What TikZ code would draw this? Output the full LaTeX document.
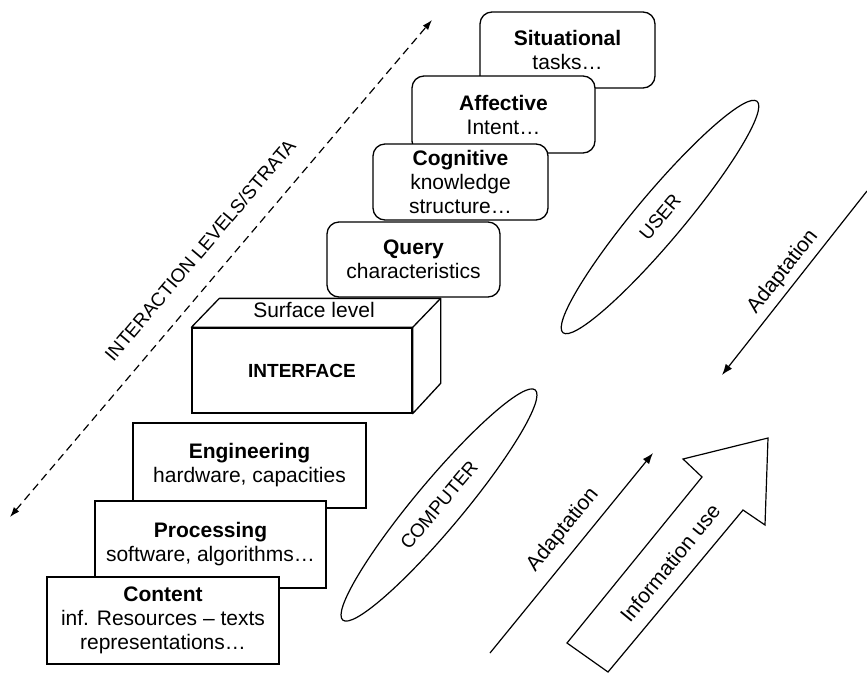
\documentclass[tikz,border=0pt]{standalone}
\usepackage{fontspec}
\setmainfont{Liberation Sans}
\usepackage{tikz}
\usetikzlibrary{arrows.meta,shapes.geometric,calc}

\begin{document}
\begin{tikzpicture}[x=1pt,y=-1pt,
        level/.style={draw, line width=1.3pt, fill=white, align=center, inner sep=0pt,
            font=\fontsize{21}{24}\selectfont},
        mind/.style={level, rounded corners=12pt},
        layer/.style={draw, line width=1.2pt, ellipse, inner sep=0pt,
            font=\fontsize{19}{22}\selectfont},
        lbl/.style={inner sep=0pt, font=\fontsize{21}{24}\selectfont},
        flow/.style={line width=1.2pt, -{Latex[length=11pt,width=8pt]}}]
        \useasboundingbox (0,0) rectangle (867,673);

        \node[mind, minimum width=175pt, minimum height=76pt] (sit) at (567.5,50) {\textbf{Situational}\\tasks\dots};
        \node[mind, minimum width=183pt, minimum height=77pt] (aff) at (503.5,114.5) {\textbf{Affective}\\Intent\dots};
        \node[mind, minimum width=175pt, minimum height=76pt] (cog) at (460.5,182) {\textbf{Cognitive}\\knowledge\\structure\dots};
        \node[mind, minimum width=173pt, minimum height=75pt] (query) at (413.5,259.5) {\textbf{Query}\\characteristics};

        \node[level, minimum width=220pt, minimum height=85pt, font=\fontsize{19}{22}\selectfont\bfseries] (iface) at (302,370.5) {INTERFACE};
        \draw[line width=1.3pt, fill=white, line join=round] (iface.north west) -- ++(28,-29)
            -- ($(iface.north east)+(28,-29)$) -- ++(0,85) -- (iface.south east)
            -- (iface.north east) -- cycle;
        \draw[line width=1.3pt] (iface.north east) -- ++(28,-29);
        \node[lbl] (surf) at ($(iface.north)+(12,-17)$) {Surface level};

        \node[level, minimum width=233pt, minimum height=85pt] (eng) at (249.5,465.5) {\textbf{Engineering}\\hardware, capacities};
        \node[level, minimum width=231pt, minimum height=87pt] (proc) at (210.5,544.5) {\textbf{Processing}\\software, algorithms\dots};
        \node[level, minimum width=232pt, minimum height=87pt] (cont) at (163,620.5) {\textbf{Content}\\inf. Resources -- texts\\representations\dots};

        \coordinate (lo) at (10,517);
        \coordinate (hi) at (432,20);
        \draw[line width=1.2pt, dashed, dash pattern=on 8pt off 5pt,
            {Latex[length=10pt,width=7pt]}-{Latex[length=10pt,width=7pt]}] (lo) -- (hi);
        \node[lbl, rotate=49.7, font=\fontsize{19}{22}\selectfont] (strata) at (200,250) {INTERACTION LEVELS/STRATA};

        \node[layer, minimum width=302pt, minimum height=48pt, rotate=50] (user) at (660,217) {USER};
        \node[layer, minimum width=300pt, minimum height=48pt, rotate=50.1] (comp) at (439,505) {COMPUTER};

        \coordinate (down0) at (867,191);
        \coordinate (down1) at (722,375);
        \draw[flow] (down0) -- (down1);
        \node[lbl, rotate=51.8] (adaptdown) at (783,272) {Adaptation};

        \coordinate (up0) at (490,653);
        \coordinate (up1) at (653,453);
        \draw[flow] (up0) -- (up1);
        \node[lbl, rotate=50.8] (adaptup) at (563,530) {Adaptation};

        \draw[line width=1.2pt, line join=miter] (567,643) -- (702,477) -- (683,459) -- (768,438)
            -- (765,525) -- (743,510) -- (608,672) -- cycle;
        \node[lbl, rotate=50.8] (use) at (670,563) {Information use};
    \end{tikzpicture}
\end{document}
